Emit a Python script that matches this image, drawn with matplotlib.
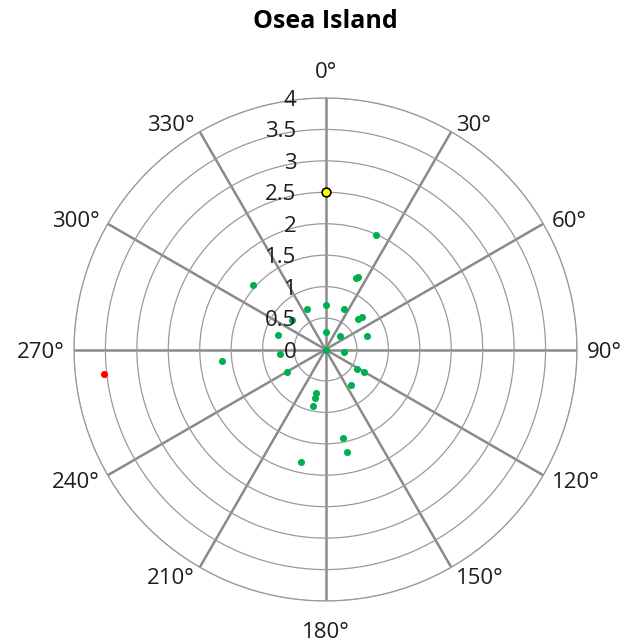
import numpy as np
import matplotlib
matplotlib.use("Agg")
import matplotlib.pyplot as plt
from matplotlib.transforms import offset_copy

plt.rcParams['font.family'] = ['Open Sans', 'DejaVu Sans']

# bearings (deg, clockwise from north) and distances
green_theta = [23.7, 23.3, 24.1, 311.6, 0, 335.6, 24.4, 46.8, 48.3, 311.4,
               0, 47.7, 72.6, 287, 0, 98, 264.3, 263.7, 239.4, 121.1,
               120.8, 144.5, 192, 192.2, 192.8, 168.6, 168.2, 192.3]
green_r = [1.99, 1.23, 1.27, 1.54, 0.70, 0.70, 0.70, 0.70, 0.77, 0.71,
           0.28, 0.31, 0.70, 0.79, 0.0, 0.29, 0.72, 1.66, 0.71, 0.59,
           0.71, 0.70, 0.70, 0.79, 0.92, 1.43, 1.66, 1.83]
yellow_theta = [0]
yellow_r = [2.5]
red_theta = [263.8]
red_r = [3.55]

r_ticks = [0, 0.5, 1, 1.5, 2, 2.5, 3, 3.5, 4]
r_labels = ['0', '0.5', '1', '1.5', '2', '2.5', '3', '3.5', '4']
theta_ticks = [0, 30, 60, 90, 120, 150, 180, 210, 240, 270, 300, 330]
theta_labels = ['%d°' % a for a in theta_ticks]

fig = plt.figure(figsize=(6.24, 6.44), dpi=100)
ax = fig.add_axes([74 / 624, 43 / 644, 503 / 624, 503 / 644], projection='polar')
ax.set_theta_zero_location('N')
ax.set_theta_direction(-1)
ax.set_ylim(0, 4)

ax.set_xticks(np.radians(theta_ticks))
ax.set_xticklabels([])
ax.set_yticks(r_ticks)
ax.set_yticklabels([])
ax.xaxis.grid(True, color='#8a8a8a', linewidth=1.8)
ax.yaxis.grid(True, color='#9a9a9a', linewidth=0.9)
ax.spines['polar'].set_color('#9a9a9a')
ax.spines['polar'].set_linewidth(0.9)
ax.tick_params(axis='x', length=0)

ax.scatter(np.radians(green_theta), green_r, s=26, color='#00b050', zorder=3, linewidths=0)
ax.scatter(np.radians(red_theta), red_r, s=26, color='#ff0000', zorder=3, linewidths=0)
ax.scatter(np.radians(yellow_theta), yellow_r, s=40, color='#ffff00',
           edgecolors='black', linewidths=1.2, zorder=4)

# angle labels placed beside the spoke ends, Excel style
for a, lab in zip(theta_ticks, theta_labels):
    s, c = np.sin(np.radians(a)), np.cos(np.radians(a))
    if abs(s) < 0.01:
        ha, ox, oy = 'center', 0, 28.5 * np.sign(c)
    else:
        ha = 'left' if s > 0 else 'right'
        ox, oy = 9.5 * s, 10 * c
    tr = offset_copy(ax.transData, fig=fig, x=ox, y=oy, units='dots')
    ax.text(np.radians(a), 4, lab, transform=tr, ha=ha, va='center_baseline',
            fontsize=16, color='#1e1e1e', clip_on=False)

tr = offset_copy(ax.transData, fig=fig, x=-29, y=0, units='dots')
for r, lab in zip(r_ticks, r_labels):
    ax.text(0, r, lab, transform=tr, ha='right', va='center_baseline', fontsize=16,
            color='#1e1e1e', clip_on=False)

fig.text(325.5 / 624, 1 - 19 / 644, 'Osea Island', ha='center', va='center_baseline',
         fontsize=18, fontweight='bold', color='black')

fig.savefig('out.png', dpi=100)
